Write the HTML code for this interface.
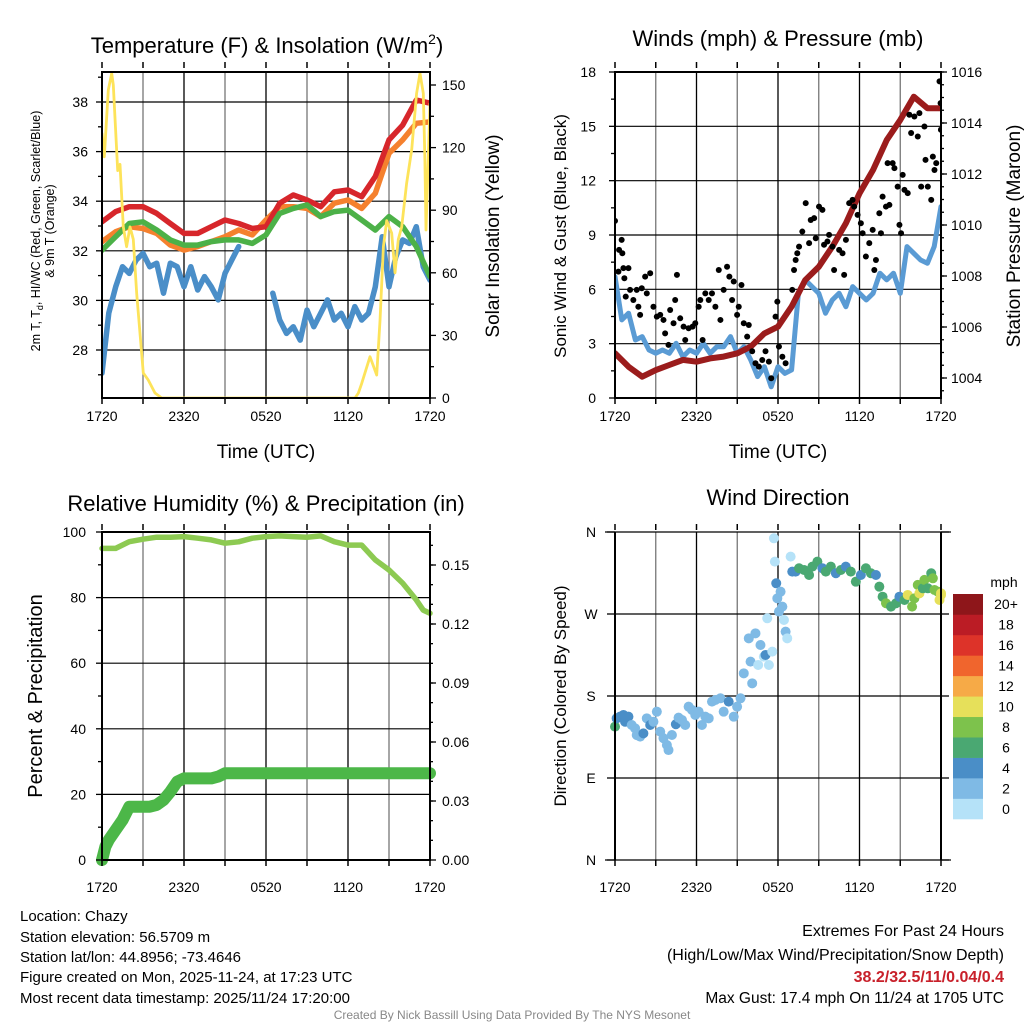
<!DOCTYPE html>
<html><head><meta charset="utf-8"><style>
html,body{margin:0;padding:0;background:#fff;}
svg{display:block;font-family:"Liberation Sans",sans-serif;}
</style></head>
<body>
<svg id="chart" width="1024" height="1024" viewBox="0 0 1024 1024" xmlns="http://www.w3.org/2000/svg">
<defs>
<clipPath id="c1"><rect x="102" y="72" width="328" height="326"/></clipPath>
<clipPath id="c2"><rect x="615" y="72" width="326" height="326"/></clipPath>
<clipPath id="c3"><rect x="102" y="532" width="328" height="328"/></clipPath>
<clipPath id="c4"><rect x="615" y="532" width="326" height="328"/></clipPath>
</defs>
<g id="g1"></g>
<g id="g2"></g>
<g id="g3"></g>
<g id="g4"></g>
<g font-size="15" fill="#000">
<text x="20" y="921">Location: Chazy</text>
<text x="20" y="942">Station elevation: 56.5709 m</text>
<text x="20" y="962">Station lat/lon: 44.8956; -73.4646</text>
<text x="20" y="982">Figure created on Mon, 2025-11-24, at 17:23 UTC</text>
<text x="20" y="1003">Most recent data timestamp: 2025/11/24 17:20:00</text>
</g>
<g font-size="16" text-anchor="end">
<text x="1004" y="936">Extremes For Past 24 Hours</text>
<text x="1004" y="960">(High/Low/Max Wind/Precipitation/Snow Depth)</text>
<text x="1004" y="982" fill="#c8202a" font-weight="bold">38.2/32.5/11/0.04/0.4</text>
<text x="1004" y="1003" font-size="15.5">Max Gust: 17.4 mph On 11/24 at 1705 UTC</text>
</g>
<text x="512" y="1019" font-size="12" fill="#888" text-anchor="middle">Created By Nick Bassill Using Data Provided By The NYS Mesonet</text>
</svg>
<script>
// ---------- Panel 1 data ----------
const hourlyT = [0,1,2,3,4,5,6,7,8,9,10,11,12,13,14,15,16,17,18,19,20,21,22,23,24];
const tempRed = [33.17,33.58,33.78,33.78,33.51,33.1,32.7,32.7,32.97,33.24,33.1,32.9,32.97,33.92,34.25,34.05,33.78,34.38,34.45,34.18,34.99,36.47,37.07,38.08,37.95];
const temp9mOrange = [32.37,32.77,32.97,32.9,32.7,32.23,32.03,32.17,32.37,32.57,32.84,32.64,33.24,33.78,33.78,33.71,33.38,33.92,34.05,33.71,34.32,35.93,36.47,37.14,37.2];
const dewGreen = [32.03,32.57,33.1,33.17,32.84,32.44,32.23,32.23,32.37,32.44,32.44,32.3,32.64,33.51,33.71,33.85,33.38,33.58,33.64,33.24,32.84,33.38,32.97,32.17,30.96];
const halfHours = [0,0.5,1,1.5,2,2.5,3,3.5,4,4.5,5,5.5,6,6.5,7,7.5,8,8.5,9,9.5,10,10.5,11,11.5,12,12.5,13,13.5,14,14.5,15,15.5,16,16.5,17,17.5,18,18.5,19,19.5,20,20.5,21,21.5,22,22.5,23,23.5,24];
const chillBlue = [27.07,29.49,30.55,31.36,31.09,31.63,31.9,31.36,31.5,30.29,31.5,31.36,30.55,31.36,30.42,30.96,30.55,30.02,31.09,31.63,32.17,null,null,null,null,30.29,29.21,28.67,28.94,28.4,29.61,28.94,29.48,30.02,29.21,29.48,28.94,29.75,29.21,29.48,30.55,32.57,30.55,31.76,32.44,32.3,32.97,31.36,30.82];
const solarTimes = [0,0.17,0.46,0.71,0.83,1.15,1.32,1.56,1.8,2.05,2.29,2.54,3.02,3.39,3.88,4.37,18.51,18.76,19.0,19.61,20.1,20.34,20.59,20.83,21.2,21.44,21.68,21.93,22.29,22.66,23.02,23.27,23.51,23.63,23.71,23.88,24];
const solarVals = [126.8,115.6,147.6,155.6,150,109,112,82,72.5,82,76,50,12,8.6,2.4,0,0,2.4,7,19.8,11,37,72.5,85,79,60,76,82,102.8,119,146,155.6,146,114,80.5,117,141];
const tempTicks = [28,30,32,34,36,38];
const solarTicks = [0,30,60,90,120,150];
const timeLabels = ["1720","2320","0520","1120","1720"];
const timeLabelHours = [0,6,12,18,24];
// ---------- Panel 2 data ----------
const pressure = [1004.97,1004.44,1004.05,1004.31,1004.51,1004.71,1004.64,1004.77,1004.84,1004.97,1005.23,1005.75,1006.01,1006.8,1007.84,1008.36,1009.15,1010.07,1011.24,1012.16,1013.33,1014.12,1015.03,1014.58,1014.58];
const windSpeed = [6.7,4.31,4.68,3.2,3.39,2.65,2.47,2.65,2.47,3.02,2.28,2.65,2.47,3.02,2.47,2.83,2.83,3.39,2.47,2.83,2.1,1.18,1.73,0.62,1.73,1.36,1.55,5.78,6.52,6.15,5.78,4.68,5.41,5.78,5.04,6.15,5.78,5.41,5.78,6.89,6.52,6.89,5.78,8.36,7.99,7.62,7.44,8.36,10.57];
const gustTimes = [0,0.3,0.49,0.54,0.25,0.62,0.69,0.99,0.79,1.11,1.35,1.6,1.72,1.85,1.97,2.22,2.34,2.59,2.83,3.08,3.33,3.57,3.69,3.94,4.06,4.31,4.43,4.56,4.8,5.05,5.17,5.42,5.71,5.91,6.16,6.28,6.45,6.65,6.9,7.14,7.39,7.64,7.76,8.0,8.25,8.42,8.62,8.74,8.99,9.11,9.31,9.48,9.73,9.85,10.1,10.34,10.59,10.84,11.08,11.33,11.5,11.82,11.95,12.07,12.32,12.56,13.05,13.18,13.3,13.42,13.55,13.79,14.04,14.29,14.41,14.66,14.78,15.02,15.27,15.39,15.64,15.76,16.01,16.13,16.5,16.75,16.87,17.0,17.24,17.49,17.61,17.86,18.1,18.23,18.47,18.72,18.97,19.09,19.21,19.46,19.58,19.7,19.95,20.07,20.2,20.44,20.57,20.81,20.94,21.06,21.18,21.31,21.55,21.67,21.8,22.04,22.29,22.41,22.54,22.78,22.86,23.03,23.28,23.4,23.52,23.65,23.89,23.97,24.0,24.0];
const gustVals = [9.78,8.18,8.73,7.99,6.98,7.17,6.61,7.17,5.6,5.97,5.41,5.97,5.04,4.59,6.06,6.7,5.78,6.89,5.04,4.49,4.59,4.31,3.57,2.93,4.86,4.13,5.41,6.8,4.4,3.94,3.2,3.85,3.94,4.13,5.04,5.41,3.2,5.78,5.41,5.78,5.04,7.07,4.31,5.97,7.25,6.7,5.41,6.43,4.59,5.04,6.24,4.13,3.39,4.03,2.58,1.92,1.73,2.1,2.58,2.01,1.09,4.49,5.32,2.84,2.28,1.92,5.97,7.07,7.62,7.99,8.36,9.19,10.76,8.55,9.83,9.93,8.82,10.57,10.39,8.46,8.64,9.01,8.36,7.07,8.18,7.99,6.8,8.73,10.76,10.94,10.57,10.11,9.65,9.1,7.81,8.55,9.28,7.07,7.62,10.2,9.1,11.12,10.57,12.97,10.66,12.97,12.69,11.67,9.56,9.1,12.32,11.49,11.31,15.64,14.63,15.54,14.44,15.73,11.67,14.99,13.15,11.67,10.94,13.33,12.59,12.97,17.48,16.28,14.81,14.81];
const windTicks = [0,3,6,9,12,15,18];
const pressureTicks = [1004,1006,1008,1010,1012,1014,1016];
// ---------- Panel 3 data ----------
const rhHours = [0,1,2,3,4,5,6,7,8,9,10,11,12,13,14,15,16,17,18,19,20,21,22,23,23.5,24];
const rhVals = [95.0,95.0,97.05,97.8,98.4,98.4,98.6,98.1,97.6,96.6,97.0,98.1,98.6,98.8,98.6,98.4,98.8,97.05,96.0,96.0,91.5,88.4,84.4,79.3,76.2,75.2];
const precipHours = [0,0.25,0.5,1,1.5,2,2.5,3,3.5,4,4.5,5,5.5,6,7,8,8.5,9,24];
const precipVals = [0,0.0068,0.0102,0.0153,0.0203,0.0271,0.0271,0.0271,0.0271,0.028,0.0305,0.0347,0.0398,0.0415,0.0415,0.0415,0.0424,0.0441,0.0441];
const rhTicks = [0,20,40,60,80,100];
const precipTicks = ["0.00","0.03","0.06","0.09","0.12","0.15"];
// ---------- Panel 4 data ----------
const dirTimes = [0,0.12,0.37,0.62,0.74,0.99,1.23,1.48,1.6,1.85,2.09,2.34,2.59,2.83,3.08,3.33,3.57,3.82,3.94,4.19,4.48,4.68,4.93,5.17,5.42,5.67,5.91,6.16,6.4,6.65,6.9,7.14,7.39,7.76,8.0,8.37,8.74,8.99,9.24,9.48,9.85,9.98,10.1,10.34,10.54,10.71,10.96,11.08,11.33,11.58,11.21,11.7,11.77,11.87,11.95,12.07,12.19,12.32,12.44,12.56,12.68,12.93,13.05,13.3,13.55,13.92,14.29,14.53,14.9,15.27,15.52,15.89,16.26,16.63,16.99,17.36,17.73,18.1,18.47,18.84,19.21,19.46,19.7,19.95,20.32,20.69,20.94,21.31,21.55,21.87,22.04,22.29,22.41,22.66,22.78,23.03,23.28,23.4,23.52,23.77,23.89,24.0,24.0];
const dirVals = [146.4,155.5,157.3,159.2,151.8,157.3,148.2,144.5,137.2,135.4,139.0,155.5,148.2,151.8,162.8,140.9,133.6,126.2,120.7,137.2,149.0,156.2,153.7,148.2,168.3,164.7,159.2,162.8,148.2,157.3,155.5,173.8,175.6,177.5,162.8,173.8,157.3,168.3,177.5,204.9,243.3,217.7,193.9,248.8,214.0,236.0,223.2,225.0,214.0,228.7,265.3,353.1,327.5,303.7,287.2,272.6,294.5,278.1,263.4,250.6,243.3,333.0,316.5,316.5,320.2,318.3,312.8,322.0,327.5,320.2,316.5,322.0,314.7,318.3,322.0,316.5,305.5,312.8,320.2,314.7,312.8,300.0,289.0,281.8,278.1,281.8,289.0,285.4,290.9,278.1,287.2,301.9,292.7,298.2,307.4,298.2,314.7,309.2,296.4,294.5,285.4,290.9,292.7];
const dirSpeeds = [6,4,4,4,4,4,3,3,2,3,4,3,4,3,3,2,3,3,2,3,4,3,3,3,3,3,3,3,3,3,3,3,3,3,3,4,3,3,3,3,3,3,3,2,1,2,1,4,1,1,1,1,1,4,3,3,3,3,1,3,1,1,4,5,6,6,6,6,6,5,6,6,5,6,5,6,6,5,6,6,5,6,6,8,6,6,5,6,10,8,8,8,10,6,8,6,6,8,8,8,10,10,10];
const dirTickLabels = ["N","E","S","W","N"];
const dirTickVals = [0,90,180,270,360];
const cbarLabels = ["0","2","4","6","8","10","12","14","16","18","20+"];
const cbarColors = ["#b5e2f8","#7fbae5","#4a8ec7","#4aa872","#7dc24c","#e6e05a","#f6aa47","#f0652d","#dd3329","#bb1c25","#8e161a"];

const NS="http://www.w3.org/2000/svg";
function el(parent,tag,attrs,text){const e=document.createElementNS(NS,tag);for(const k in attrs)e.setAttribute(k,attrs[k]);if(text!==undefined)e.textContent=text;parent.appendChild(e);return e;}
function lin(d0,d1,r0,r1){return v=>r0+(v-d0)*(r1-r0)/(d1-d0);}
function pathD(xs,ys,xf,yf){let d="",pen=false;for(let i=0;i<xs.length;i++){if(ys[i]===null||ys[i]===undefined){pen=false;continue;}d+=(pen?"L":"M")+xf(xs[i]).toFixed(1)+","+yf(ys[i]).toFixed(1);pen=true;}return d;}

function frame(g,x0,x1,y0,y1,hGrid,clipId){
  const X=lin(0,24,x0,x1);
  for(let h=3;h<24;h+=3){const l=el(g,"line",{x1:X(h),x2:X(h),y1:y0,y2:y1,stroke:(h%6===0?"#000":"#777"),"stroke-width":1.3});
    
    }
  hGrid.forEach(y=>{const l=el(g,"line",{x1:x0,x2:x1,y1:y,y2:y,stroke:"#000","stroke-width":1.2});
    
    });
  return X;
}
function border(g,x0,x1,y0,y1){const r=el(g,"rect",{x:x0,y:y0,width:x1-x0,height:y1-y0,fill:"none",stroke:"#000","stroke-width":2});
  
  }
function xTicks(g,X,y1,labelY){
  for(let h=0;h<=24;h+=3){const t=el(g,"line",{x1:X(h),x2:X(h),y1:y1,y2:y1+6,stroke:"#000","stroke-width":1.5});
    
    
    const t2=el(g,"line",{x1:X(h),x2:X(h),y1:y1-330,y2:y1-336,stroke:"#000","stroke-width":1.5});
    
    }
  timeLabelHours.forEach((h,i)=>{const t=el(g,"text",{x:X(h),y:labelY,"font-size":14,"text-anchor":"middle"},timeLabels[i]);
    
    });
}
function yLabel(g,x,y,txt,anchor,size){const t=el(g,"text",{x:x,y:y+5,"font-size":size||14,"text-anchor":anchor},txt);
  
  }
function tick(g,x,y,len){const t=el(g,"line",{x1:x,x2:x+len,y1:y,y2:y,stroke:"#000","stroke-width":1.3});
  
  }
function rotText(g,x,y,txt,size,name){const t=el(g,"text",{x:0,y:0,"font-size":size,"text-anchor":"middle",transform:`translate(${x},${y}) rotate(-90)`},txt);
  
  return t;}
function title(g,x,y,txt,name,size){const t=el(g,"text",{x:x,y:y,"font-size":size||22,"text-anchor":"middle"},txt);
  
  return t;}

// ===== Panel 1 =====
(function(){
  const g=document.getElementById("g1");
  const x0=102,x1=430,y0=72,y1=398;
  const YT=lin(38,28,102,350), YS=lin(0,150,398,85);
  const X=frame(g,x0,x1,y0,y1,tempTicks.map(YT),"c1");
  const d=el(g,"g",{"clip-path":"url(#c1)",fill:"none","stroke-linejoin":"round","stroke-linecap":"round"});
  const pb=el(d,"path",{d:pathD(halfHours,chillBlue,X,YT),stroke:"#4a8ec8","stroke-width":5.5});
  
  
  const po=el(d,"path",{d:pathD(hourlyT,temp9mOrange,X,YT),stroke:"#f5812e","stroke-width":5.5});
  
  
  const pr=el(d,"path",{d:pathD(hourlyT,tempRed,X,YT),stroke:"#d7262b","stroke-width":5.5});
  
  
  const pg=el(d,"path",{d:pathD(hourlyT,dewGreen,X,YT),stroke:"#4cb148","stroke-width":5.5});
  
  
  const py=el(d,"path",{d:pathD(solarTimes,solarVals,X,YS),stroke:"#fde35a","stroke-width":2.8});
  
  
  border(g,x0,x1,y0,y1);
  tempTicks.forEach(v=>{tick(g,x0,YT(v),-6);yLabel(g,88,YT(v),String(v),"end");});
  for(let v=27;v<=39;v+=2){tick(g,x0,YT(v),-4);}
  solarTicks.forEach(v=>{tick(g,x1,YS(v),6);yLabel(g,442,YS(v),String(v),"start");});
  for(let v=15;v<=150;v+=30){tick(g,x1,YS(v),4);}
  xTicks(g,X,y1,421);
  const tt=title(g,267,53,"Temperature (F) & Insolation (W/m","panel1-title");
  const sup=el(tt,"tspan",{dy:-9,"font-size":14},"2");
  const cl=el(tt,"tspan",{dy:9},")");
  title(g,266,458,"Time (UTC)","panel1-x-axis-title",19);
  const lt=rotText(g,40,231,"2m T, T",12.5,"panel1-y-axis-title");
  el(lt,"tspan",{"font-size":9,dy:3},"d");
  el(lt,"tspan",{dy:-3},", HI/WC (Red, Green, Scarlet/Blue)");
  rotText(g,54,231,"& 9m T (Orange)",12.5,"panel1-y-axis-title-line2");
  rotText(g,499,236,"Solar Insolation (Yellow)",19,"panel1-right-axis-title");
})();

// ===== Panel 2 =====
(function(){
  const g=document.getElementById("g2");
  const x0=615,x1=941,y0=72,y1=398;
  const YW=lin(0,18,398,72), YP=lin(1016,1004,72,378);
  const X=frame(g,x0,x1,y0,y1,windTicks.slice(1,-1).map(YW),"c2");
  const d=el(g,"g",{"clip-path":"url(#c2)",fill:"none","stroke-linejoin":"round","stroke-linecap":"round"});
  const pw=el(d,"path",{d:pathD(halfHours,windSpeed,X,YW),stroke:"#5a9bd4","stroke-width":5});
  
  
  const gg=el(g,"g",{"clip-path":"url(#c2)"});
  gustTimes.forEach((t,i)=>{const c=el(gg,"circle",{cx:X(t),cy:YW(gustVals[i]),r:3,fill:"#000"});
    
    });
  const pp=el(d,"path",{d:pathD(hourlyT,pressure,X,YP),stroke:"#9b1c1c","stroke-width":6});
  
  
  border(g,x0,x1,y0,y1);
  windTicks.forEach(v=>{tick(g,x0,YW(v),-6);yLabel(g,596,YW(v),String(v),"end");});
  for(let v=1.5;v<18;v+=3){tick(g,x0,YW(v),-4);}
  pressureTicks.forEach(v=>{tick(g,x1,YP(v),6);yLabel(g,951,YP(v),String(v),"start");});
  for(let v=1003.5;v<=1016;v+=0.5){tick(g,x1,YP(v),3);}
  xTicks(g,X,y1,421);
  title(g,778,46,"Winds (mph) & Pressure (mb)","panel2-title");
  title(g,778,458,"Time (UTC)","panel2-x-axis-title",19);
  rotText(g,566,236,"Sonic Wind & Gust (Blue, Black)",17,"panel2-y-axis-title");
  rotText(g,1020,236,"Station Pressure (Maroon)",19,"panel2-right-axis-title");
})();

// ===== Panel 3 =====
(function(){
  const g=document.getElementById("g3");
  const x0=102,x1=430,y0=532,y1=860;
  const YR=lin(0,100,860,532), YPr=lin(0,0.15,860,565);
  const X=frame(g,x0,x1,y0,y1,rhTicks.slice(1,-1).map(YR),"c3");
  const d=el(g,"g",{fill:"none","stroke-linejoin":"round","stroke-linecap":"round"});
  const prh=el(d,"path",{d:pathD(rhHours,rhVals,X,YR),stroke:"#8dca52","stroke-width":5.5});
  
  
  const ppr=el(d,"path",{d:pathD(precipHours,precipVals,X,YPr),stroke:"#4cb748","stroke-width":12});
  
  
  border(g,x0,x1,y0,y1);
  rhTicks.forEach(v=>{tick(g,x0,YR(v),-6);yLabel(g,86,YR(v),String(v),"end");});
  for(let v=10;v<100;v+=20){tick(g,x0,YR(v),-4);}
  precipTicks.forEach(s=>{const v=parseFloat(s);tick(g,x1,YPr(v),6);yLabel(g,442,YPr(v),s,"start");});
  for(let v=0.01;v<0.165;v+=0.01){tick(g,x1,YPr(v),3);}
  xTicks(g,X,y1,892);
  title(g,266,511,"Relative Humidity (%) & Precipitation (in)","panel3-title");
  rotText(g,42,696,"Percent & Precipitation",20,"panel3-y-axis-title");
})();

// ===== Panel 4 =====
(function(){
  const g=document.getElementById("g4");
  const x0=615,x1=941,y0=532,y1=860;
  const YD=lin(0,360,860,532);
  const X=frame(g,x0,x1,y0,y1,[90,180,270].map(YD),"c4");
  const colorFor=s=>cbarColors[Math.min(10,Math.floor(s/2))];
  const dg=el(g,"g",{});
  dirTimes.forEach((t,i)=>{const c=el(dg,"circle",{cx:X(t),cy:YD(dirVals[i]),r:5,fill:colorFor(dirSpeeds[i])});
    
    });
  el(g,"line",{x1:x0,x2:x0,y1:y0,y2:y1,stroke:"#000","stroke-width":2});
  el(g,"line",{x1:x1,x2:x1,y1:y0,y2:y1,stroke:"#000","stroke-width":2});
  el(g,"line",{x1:x0-10,x2:x1+10,y1:y0,y2:y0,stroke:"#000","stroke-width":1.2});
  el(g,"line",{x1:x0-10,x2:x1+10,y1:y1,y2:y1,stroke:"#000","stroke-width":1.2});
  dirTickVals.forEach((v,i)=>{tick(g,x0,YD(v),-8);tick(g,x1,YD(v),8);yLabel(g,591,YD(v),dirTickLabels[i],"middle");});
  xTicks(g,X,y1,892);
  title(g,778,505,"Wind Direction","panel4-title");
  rotText(g,566,696,"Direction (Colored By Speed)",17,"panel4-y-axis-title");
  const cb=el(g,"g",{});
  
  
  const h=(819-594)/cbarColors.length;
  cbarColors.forEach((c,i)=>{const r=el(cb,"rect",{x:953,y:819-(i+1)*h,width:30,height:h+0.3,fill:c});
    
    
    const t=el(cb,"text",{x:1006,y:819-(i+0.5)*h+5,"font-size":14,"text-anchor":"middle"},cbarLabels[i]);
    
    });
  const u=el(cb,"text",{x:1004,y:587,"font-size":14,"text-anchor":"middle"},"mph");
  
  
})();
</script>
</body></html>
